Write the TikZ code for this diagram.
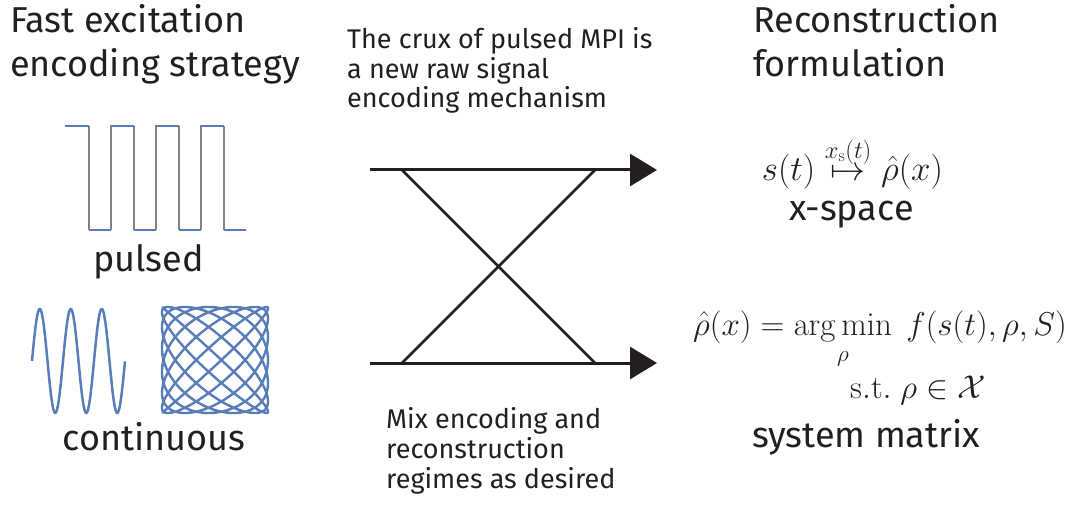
\documentclass[tikz,border=0pt]{standalone}
\usepackage{fix-cm}
\usepackage{amsmath, amsfonts, amssymb}
\usepackage{xcolor}
\usepackage[no-math]{fontspec}
\setmainfont{Fira Sans}
\usepackage{tikz}
\usetikzlibrary{arrows.meta}

\definecolor{sigblue}{RGB}{88,125,185}
\definecolor{risegray}{RGB}{130,130,130}
\definecolor{ink}{RGB}{35,31,32}

\tikzset{
    headtext/.style={font=\fontsize{36}{44.5}\selectfont, align=left, inner sep=0, text=ink},
    notetext/.style={font=\fontsize{27}{29.7}\selectfont, align=left, inner sep=0, text=ink},
    eqtext/.style={font=\fontsize{33}{40}\selectfont, inner sep=0, text=ink},
    flow/.style={line width=3pt, draw=ink, -{Triangle[length=27pt,width=32pt]}},
    swap/.style={line width=2.5pt, draw=ink},
    wave/.style={line width=2.5pt, draw=sigblue}
}

\begin{document}
\begin{tikzpicture}[x=1pt, y=-1pt]

    \useasboundingbox (0,0) rectangle (1070,510);

    \node[headtext, anchor=base west] (enchead) at (10,77) {Fast excitation\\encoding strategy};
    \node[headtext, anchor=base west] (rechead) at (753,77) {Reconstruction\\formulation};

    \node[notetext, anchor=base west] (crux) at (347,108) {The crux of pulsed MPI is\\a new raw signal\\encoding mechanism};
    \node[notetext, anchor=base west] (mix) at (386,488) {Mix encoding and\\reconstruction\\regimes as desired};

    % pulsed waveform
    \foreach \a in {0,...,3}{
        \pgfmathsetmacro\xa{65+45*\a}
        \pgfmathsetmacro\xb{89+45*\a}
        \pgfmathsetmacro\xc{111+45*\a}
        \draw[line width=1.2pt, risegray] (\xb,126)--(\xb,230);
        \draw[line width=2.5pt, sigblue] (\xa,126)--(\xb,126);
        \draw[line width=2.5pt, sigblue] (\xb,230)--(\xc,230);
    }
    \foreach \a in {0,...,2}{
        \pgfmathsetmacro\xc{111+45*\a}
        \draw[line width=1.2pt, risegray] (\xc,126)--(\xc,230);
    }
    \node[headtext, anchor=base] (pulsed) at (148.5,272) {pulsed};

    % continuous waveforms
    \draw[wave] plot[domain=0:3, samples=150] ({32+31*\x}, {361-52*sin(360*\x)});
    \draw[wave, line width=2.4pt] plot[domain=0:180, samples=1400] ({215-53*cos(14*\x)}, {360-53*cos(13*\x)});
    \node[headtext, anchor=base] (contin) at (154,450) {continuous};

    % encoding to reconstruction
    \coordinate (topin) at (370,170);
    \coordinate (topout) at (657,170);
    \coordinate (botin) at (370,363);
    \coordinate (botout) at (657,363);
    \coordinate (topl) at (402,170);
    \coordinate (topr) at (595,170);
    \coordinate (botl) at (402,363);
    \coordinate (botr) at (595,363);

    \draw[flow] (topin)--(topout);
    \draw[flow] (botin)--(botout);
    \draw[swap] (topl)--(botr);
    \draw[swap] (botl)--(topr);

    \node[eqtext, font=\fontsize{35}{40}\selectfont, anchor=base] (xseq) at (852.5,181) {$s(t) \overset{x_{\mathrm{s}}(t)}{\mapsto} \hat{\rho}(x)$};
    \node[headtext, anchor=base] (xspace) at (851.5,221) {x-space};

    \node[eqtext, anchor=base] (smeq) at (880,335) {$\hat{\rho}(x) = \mathop{\arg\min}\limits_{\rho}\ f(s(t),\rho,S)$};
    \node[eqtext, anchor=base] (smst) at (918,398) {$\mathrm{s.t.}\ \rho \in \mathcal{X}$};
    \node[headtext, anchor=base] (sysmat) at (866,447) {system matrix};

\end{tikzpicture}
\end{document}
